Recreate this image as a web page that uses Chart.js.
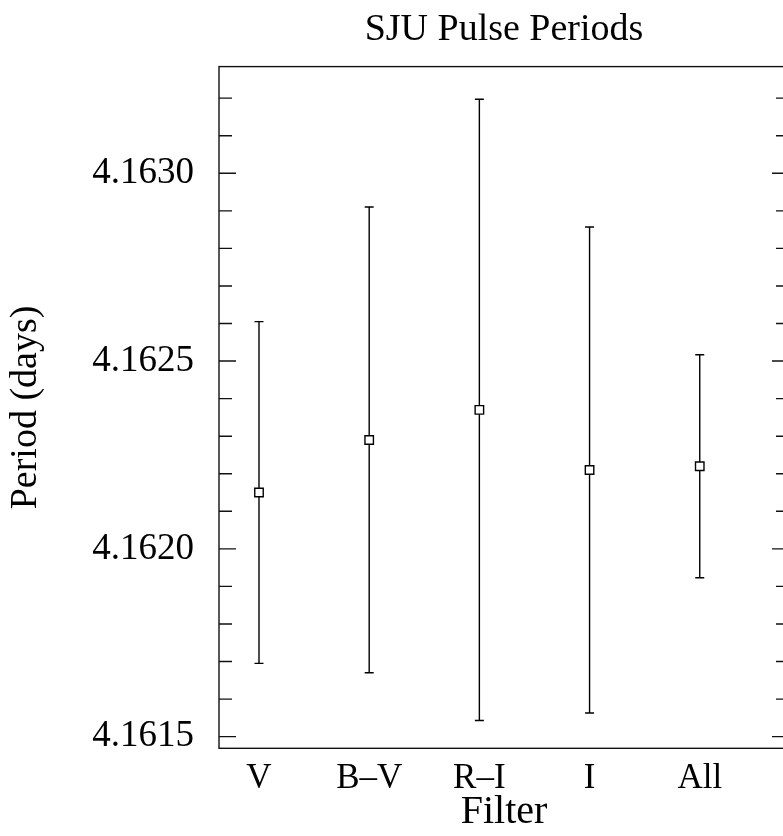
<!DOCTYPE html>
<html><head><meta charset="utf-8">
<style>html,body{margin:0;padding:0;overflow:hidden;background:#fff}canvas{display:block}</style>
<script src="https://cdn.jsdelivr.net/npm/chart.js@4.4.0/dist/chart.umd.min.js"></script>
</head><body>
<canvas id="c" width="800" height="836"></canvas>
<script>
// ---- data ----
const categories = ['V', 'B\u2013V', 'R\u2013I', 'I', 'All'];
const periods = [4.16215, 4.16229, 4.16237, 4.16221, 4.16222];
const errors = [0.000455, 0.00062, 0.000827, 0.000647, 0.000297];
const yTickLabels = ['4.1615', '4.1620', '4.1625', '4.1630'];
const yMinorStep = 0.0001;
const yRange = [4.161469, 4.163284];
const xRange = [0.637, 5.81];

const FONT = "'Liberation Serif', 'Times New Roman', Times, serif";
const yMajor = yTickLabels.map(Number);
const yMinor = [];
for (let k = Math.ceil(yRange[0] / yMinorStep); k * yMinorStep <= yRange[1]; k++) {
  const v = +(k * yMinorStep).toFixed(4);
  if (!yMajor.some(m => Math.abs(m - v) < 1e-9)) yMinor.push(v);
}

const errorBars = {
  id: 'errorBars',
  beforeDatasetsDraw(chart) {
    const {ctx, scales: {x, y}} = chart;
    ctx.save();
    ctx.strokeStyle = '#000';
    ctx.lineWidth = 1.4;
    periods.forEach((p, i) => {
      const px = x.getPixelForValue(i + 1);
      const top = y.getPixelForValue(p + errors[i]);
      const bot = y.getPixelForValue(p - errors[i]);
      ctx.beginPath();
      ctx.moveTo(px, top); ctx.lineTo(px, bot);
      ctx.moveTo(px - 4.5, top); ctx.lineTo(px + 4.5, top);
      ctx.moveTo(px - 4.5, bot); ctx.lineTo(px + 4.5, bot);
      ctx.stroke();
    });
    ctx.restore();
  }
};

const frame = {
  id: 'frame',
  afterDraw(chart) {
    const {ctx, chartArea: a, scales: {y}} = chart;
    ctx.save();
    ctx.strokeStyle = '#111';
    ctx.lineWidth = 1.4;
    ctx.strokeRect(a.left, a.top, a.right - a.left, a.bottom - a.top);
    ctx.beginPath();
    const tick = (v, len) => {
      const py = y.getPixelForValue(v);
      ctx.moveTo(a.left, py); ctx.lineTo(a.left + len, py);
      ctx.moveTo(a.right, py); ctx.lineTo(a.right - len, py);
    };
    yMajor.forEach(v => tick(v, 17));
    yMinor.forEach(v => tick(v, 13));
    ctx.stroke();
    ctx.restore();
  }
};

Chart.defaults.color = '#000';
Chart.defaults.font.family = FONT;

new Chart(document.getElementById('c'), {
  type: 'scatter',
  data: {
    datasets: [{
      data: periods.map((p, i) => ({x: i + 1, y: p})),
      pointStyle: 'rect',
      pointRadius: 6,
      pointHoverRadius: 6,
      pointBackgroundColor: '#fff',
      pointBorderColor: '#000',
      pointBorderWidth: 1.4,
      showLine: false
    }]
  },
  options: {
    responsive: false,
    devicePixelRatio: 1,
    animation: false,
    layout: {padding: {left: 0, right: 11, top: 0, bottom: 0}},
    plugins: {
      legend: {display: false},
      tooltip: {enabled: true},
      title: {
        display: true,
        text: 'SJU Pulse Periods',
        fullSize: false,
        color: '#000',
        font: {family: FONT, size: 38, weight: 'normal', lineHeight: 1.2},
        padding: {top: 7, bottom: 14}
      }
    },
    scales: {
      x: {
        type: 'linear',
        min: xRange[0], max: xRange[1],
        grid: {display: false, drawTicks: false},
        border: {display: false},
        afterBuildTicks: s => { s.ticks = categories.map((c, i) => ({value: i + 1})); },
        afterFit: s => { s.height = 87.7; },
        ticks: {
          autoSkip: false, maxRotation: 0, padding: 10,
          font: {family: FONT, size: 35, lineHeight: 1.2},
          color: '#000',
          callback: (v, i) => categories[i]
        },
        title: {
          display: true, text: 'Filter', color: '#000',
          font: {family: FONT, size: 40, lineHeight: 1.2},
          padding: {top: 0, bottom: 0}
        }
      },
      y: {
        type: 'linear',
        min: yRange[0], max: yRange[1],
        grid: {display: false, drawTicks: false},
        border: {display: false},
        afterBuildTicks: s => { s.ticks = yMajor.map(v => ({value: v})); },
        afterFit: s => { s.width = 219; },
        ticks: {
          autoSkip: false, padding: 25,
          font: {family: FONT, size: 37, lineHeight: 1.2},
          color: '#000',
          callback: (v, i) => yTickLabels[i]
        },
        title: {
          display: true, text: 'Period (days)', color: '#000',
          font: {family: FONT, size: 38, lineHeight: 1.2},
          padding: {top: 3, bottom: 0}
        }
      }
    }
  },
  plugins: [errorBars, frame]
});
</script>
</body></html>
